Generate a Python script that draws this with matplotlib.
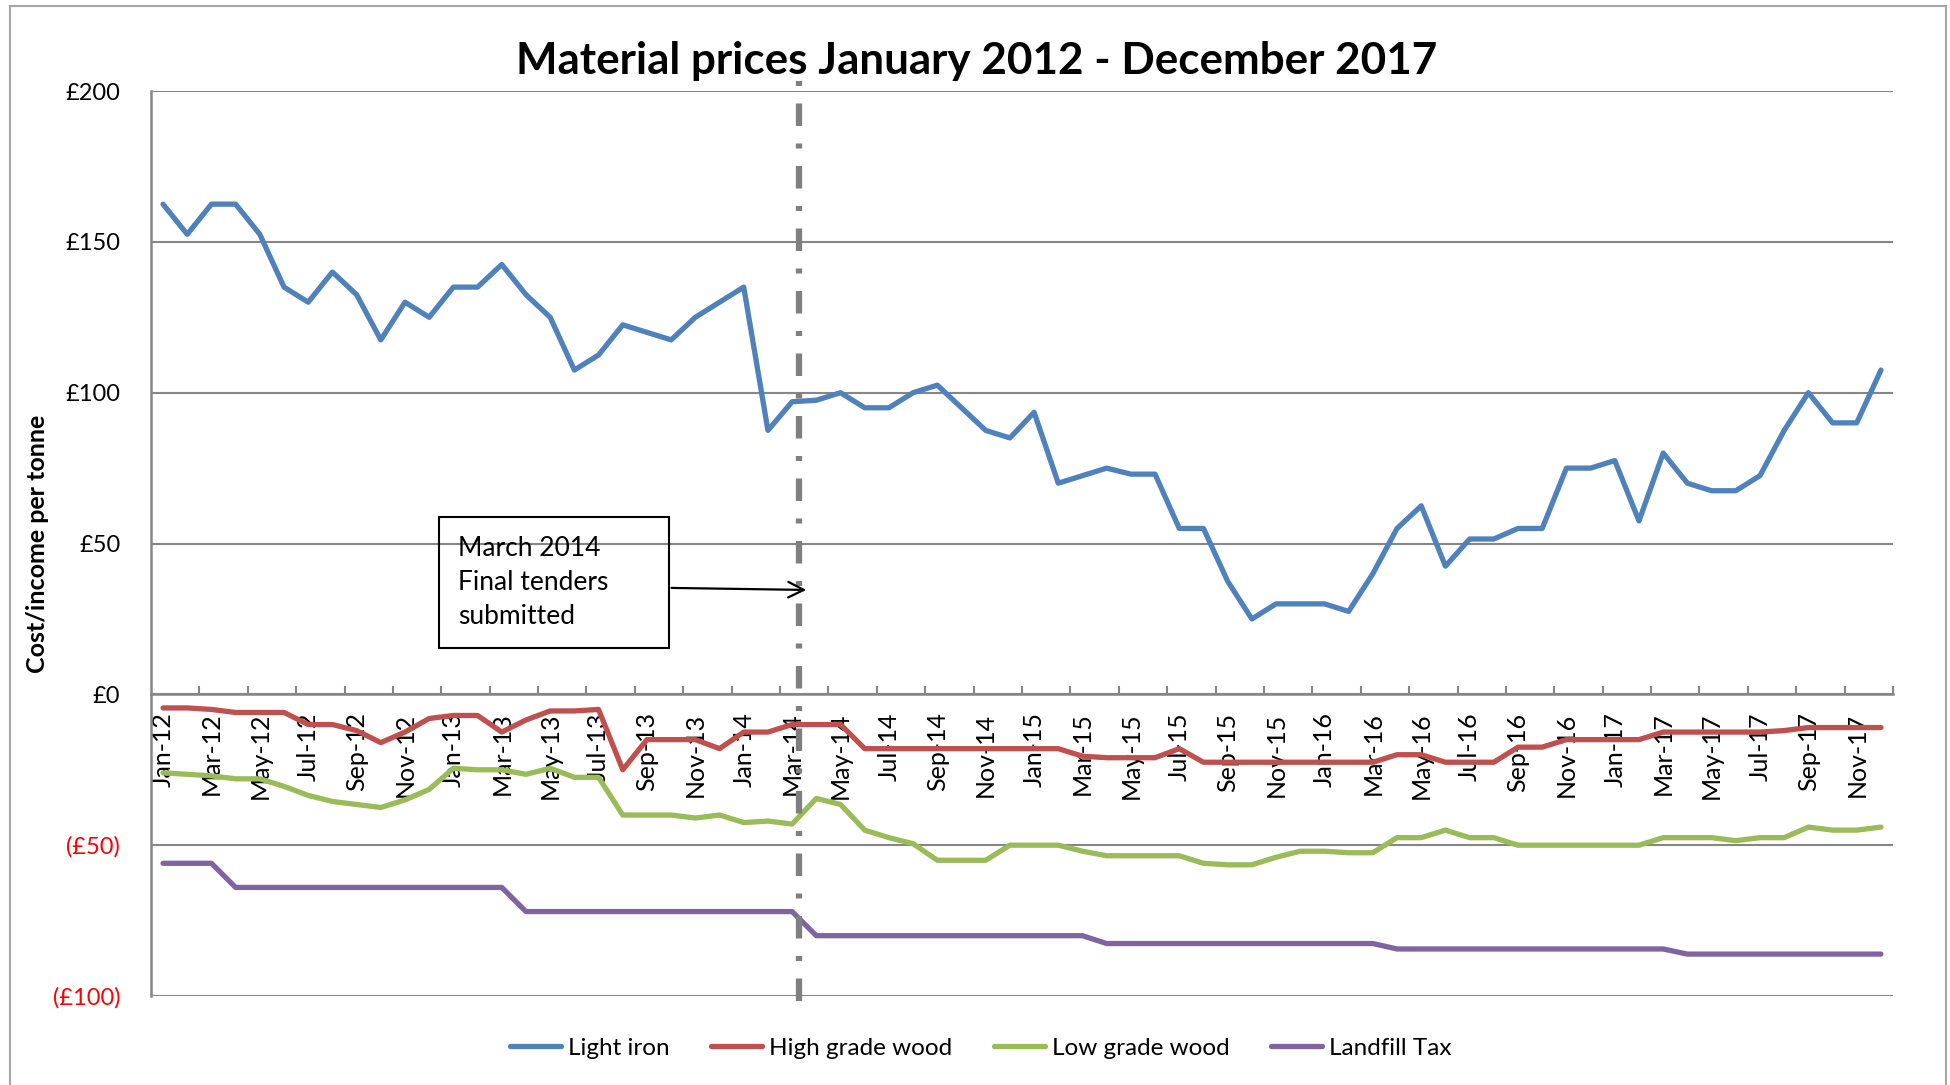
import numpy as np
import pandas as pd
import matplotlib
matplotlib.use("Agg")
import matplotlib.pyplot as plt
from matplotlib.patches import Rectangle
from matplotlib.lines import Line2D

plt.rcParams['font.family'] = ['Lato', 'DejaVu Sans']

# monthly categories Jan-12 .. Dec-17
months = pd.date_range('2012-01-01', '2017-12-01', freq='MS').strftime('%b-%y').tolist()

light_iron = [162.5, 152.5, 162.5, 162.5, 152.5, 135, 130, 140, 132.5, 117.5, 130, 125,
              135, 135, 142.5, 132.5, 125, 107.5, 112.5, 122.5, 120, 117.5, 125, 130,
              135, 87.5, 97, 97.5, 100, 95, 95, 100, 102.5, 95, 87.5, 85,
              93.5, 70, 72.5, 75, 73, 73, 55, 55, 37.5, 25, 30, 30,
              30, 27.5, 40, 55, 62.5, 42.5, 51.5, 51.5, 55, 55, 75, 75,
              77.5, 57.5, 80, 70, 67.5, 67.5, 72.5, 87.5, 100, 90, 90, 107.5]
high_wood = [-4.5, -4.5, -5, -6, -6, -6, -10, -10, -12, -16, -12.5, -8,
             -7, -7, -12.5, -8.5, -5.5, -5.5, -5, -25, -15, -15, -15, -18,
             -12.5, -12.5, -10, -10, -10, -18, -18, -18, -18, -18, -18, -18,
             -18, -18, -20.5, -21, -21, -21, -18, -22.5, -22.5, -22.5, -22.5, -22.5,
             -22.5, -22.5, -22.5, -20, -20, -22.5, -22.5, -22.5, -17.5, -17.5, -15, -15,
             -15, -15, -12.5, -12.5, -12.5, -12.5, -12.5, -12, -11, -11, -11, -11]
low_wood = [-26, -26.5, -27, -28, -28, -30.5, -33.5, -35.5, -36.5, -37.5, -35, -31.5,
            -24.5, -25, -25, -26.5, -24.5, -27.5, -27.5, -40, -40, -40, -41, -40,
            -42.5, -42, -43, -34.5, -36.5, -45, -47.5, -49.5, -55, -55, -55, -50,
            -50, -50, -52, -53.5, -53.5, -53.5, -53.5, -56, -56.5, -56.5, -54, -52,
            -52, -52.5, -52.5, -47.5, -47.5, -45, -47.5, -47.5, -50, -50, -50, -50,
            -50, -50, -47.5, -47.5, -47.5, -48.5, -47.5, -47.5, -44, -45, -45, -44]
landfill = [-56, -56, -56, -64, -64, -64, -64, -64, -64, -64, -64, -64,
            -64, -64, -64, -72, -72, -72, -72, -72, -72, -72, -72, -72,
            -72, -72, -72, -80, -80, -80, -80, -80, -80, -80, -80, -80,
            -80, -80, -80, -82.6, -82.6, -82.6, -82.6, -82.6, -82.6, -82.6, -82.6, -82.6,
            -82.6, -82.6, -82.6, -84.4, -84.4, -84.4, -84.4, -84.4, -84.4, -84.4, -84.4, -84.4,
            -84.4, -84.4, -84.4, -86.1, -86.1, -86.1, -86.1, -86.1, -86.1, -86.1, -86.1, -86.1]

series_names = ['Light iron', 'High grade wood', 'Low grade wood', 'Landfill Tax']
colors = ['#4F81BD', '#C0504D', '#9BBB59', '#8064A2']

y_ticks = [200, 150, 100, 50, 0, -50, -100]
y_labels = ['£200', '£150', '£100', '£50', '£0', '(£50)', '(£100)']

tender_x = 26.3   # March 2014 marker
note_text = 'March 2014\nFinal tenders\nsubmitted'

grey = '#868686'

fig = plt.figure(figsize=(19.5, 10.85), dpi=100)
ax = fig.add_axes([0.0774, 0.082, 0.8934, 0.8341])

x = np.arange(len(months))
for vals, name, c in zip([light_iron, high_wood, low_wood, landfill], series_names, colors):
    ax.plot(x, vals, color=c, lw=3.8, label=name, solid_joinstyle='round', solid_capstyle='round', zorder=3)

ax.set_xlim(-0.5, len(months) - 0.5)
ax.set_ylim(-100, 200)

# y axis
ax.set_yticks(y_ticks)
ax.set_yticklabels(y_labels, fontsize=17)
for lab, v in zip(ax.get_yticklabels(), y_ticks):
    lab.set_color('red' if v < 0 else 'black')
ax.tick_params(axis='y', length=0, pad=22)
ax.yaxis.grid(True, color=grey, lw=1.5)
ax.set_axisbelow(True)

# category axis crossing at zero
for s in ['top', 'right']:
    ax.spines[s].set_visible(False)
ax.spines['left'].set_color(grey)
ax.spines['left'].set_linewidth(1.8)
ax.spines['bottom'].set_position(('data', 0))
ax.spines['bottom'].set_color(grey)
ax.spines['bottom'].set_linewidth(1.8)
ax.set_xticks(np.arange(1.5, len(months), 2))
ax.set_xticklabels([])
ax.tick_params(axis='x', which='major', direction='in', length=6, width=1.5, color=grey)
ax.set_xticks(x[::2], minor=True)
ax.set_xticklabels(months[::2], minor=True, rotation=90, fontsize=18)
ax.tick_params(axis='x', which='minor', length=0, pad=13)

ax.set_ylabel('Cost/income per tonne', fontsize=18, fontweight='bold', labelpad=3)

# tender line
ax.axvline(tender_x, ymin=-0.005, ymax=1.02, color='#7f7f7f', lw=4.5, clip_on=False,
           linestyle=(0, (3.6, 2.8, 0.8, 2.8)), dash_capstyle='butt', zorder=4)

# note box + arrow
ax.add_patch(Rectangle((11.4, 15.4), 9.5, 43.4, fill=False, ec='black', lw=1.5, zorder=5))
ax.text(12.2, 37.0, note_text, fontsize=19, va='center', ha='left', linespacing=1.45, zorder=5)
ax.annotate('', xy=(26.7, 34.6), xytext=(20.9, 35.3),
            arrowprops=dict(arrowstyle='->', lw=1.6, color='black', mutation_scale=28), zorder=5)

fig.text(0.501, 0.944, 'Material prices January 2012 - December 2017', fontsize=31.7,
         fontweight='bold', ha='center', va='center')

handles = [Line2D([0], [0], color=c, lw=3.8, solid_capstyle='round') for c in colors]
fig.legend(handles, series_names, loc='center', bbox_to_anchor=(0.503, 0.034), ncol=4,
           frameon=False, fontsize=17.5, handlelength=2.1, columnspacing=1.7, handletextpad=0.3)

# chart border
for ln in [[(10, 10), (0, 1079)], [(10, 1946), (1079, 1079)], [(1946, 1946), (1079, 0)]]:
    fig.add_artist(Line2D(np.array(ln[0]) / 1950, np.array(ln[1]) / 1085, color='#a6a6a6', lw=1.5))

fig.savefig('out.png', dpi=100)
